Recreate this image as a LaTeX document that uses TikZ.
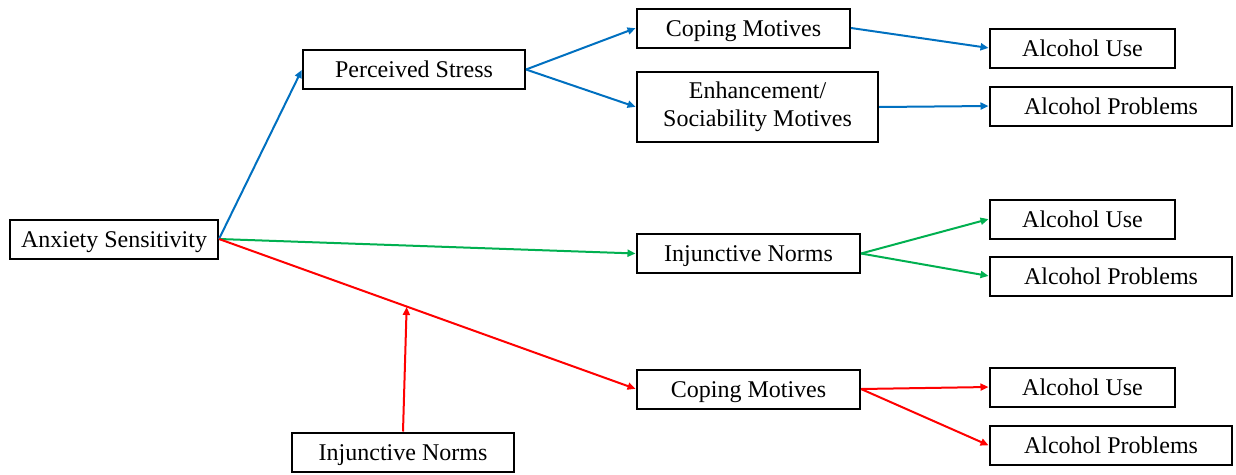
\documentclass[tikz,border=0pt]{standalone}
\usepackage{fontspec}
\setmainfont{Liberation Serif}
\usepackage{tikz}
\usetikzlibrary{positioning,arrows.meta}
\usepackage{xcolor}
\definecolor{pathblue}{RGB}{0,112,192}
\definecolor{pathgreen}{RGB}{0,176,80}
\definecolor{pathred}{RGB}{255,0,0}

\begin{document}
\begin{tikzpicture}[
  x=1pt, y=-1pt,
  >={Triangle[length=8pt,width=7pt]},
  frame/.style={draw, line width=2pt, align=center, inner sep=0pt,
                font=\fontsize{24}{28}\selectfont, minimum height=39pt},
  box/.style={frame, text height=17pt, text depth=1pt},
  conn/.style={->, line width=2pt, shorten >=0.5pt}
]
  \useasboundingbox (0,0) rectangle (1236,474);

  \node[box, minimum width=208pt] (anxiety) at (114,239) {Anxiety Sensitivity};
  \node[box, minimum width=222pt] (stress) at (414,69.5) {Perceived Stress};
  \node[box, minimum width=213pt] (copingA) at (743.5,28) {Coping Motives};
  \node[frame, minimum width=241pt, minimum height=70pt] (enhance) at (757.5,107) {Enhancement/\\Sociability Motives};
  \node[box, minimum width=185pt] (useA) at (1082.5,48) {Alcohol Use};
  \node[box, minimum width=242pt] (probA) at (1111,106) {Alcohol Problems};
  \node[box, minimum width=223pt] (normsA) at (748.5,253.5) {Injunctive Norms};
  \node[box, minimum width=185pt] (useB) at (1082.5,219) {Alcohol Use};
  \node[box, minimum width=242pt] (probB) at (1111,276) {Alcohol Problems};
  \node[box, minimum width=223pt] (copingB) at (748.5,389) {Coping Motives};
  \node[box, minimum width=185pt] (useC) at (1082.5,387) {Alcohol Use};
  \node[box, minimum width=242pt] (probC) at (1111,445.5) {Alcohol Problems};
  \node[box, minimum width=222pt] (normsB) at (403,452) {Injunctive Norms};

  % stress pathway
  \draw[conn, pathblue] (anxiety.east) -- (stress.west);
  \draw[conn, pathblue] (stress.east) -- (copingA.west);
  \draw[conn, pathblue] (stress.east) -- (enhance.west);
  \draw[conn, pathblue] (copingA.east) -- (useA.west);
  \draw[conn, pathblue] (enhance.east) -- (probA.west);

  % norms pathway
  \draw[conn, pathgreen] (anxiety.east) -- (normsA.west);
  \draw[conn, pathgreen] (normsA.east) -- (useB.west);
  \draw[conn, pathgreen] (normsA.east) -- (probB.west);

  % moderated coping pathway
  \draw[conn, pathred] (anxiety.east) -- coordinate[pos=0.45] (moderate) (copingB.west);
  \draw[conn, pathred] (copingB.east) -- (useC.west);
  \draw[conn, pathred] (copingB.east) -- (probC.west);
  \draw[conn, pathred] (normsB.north) -- (moderate);
\end{tikzpicture}
\end{document}
